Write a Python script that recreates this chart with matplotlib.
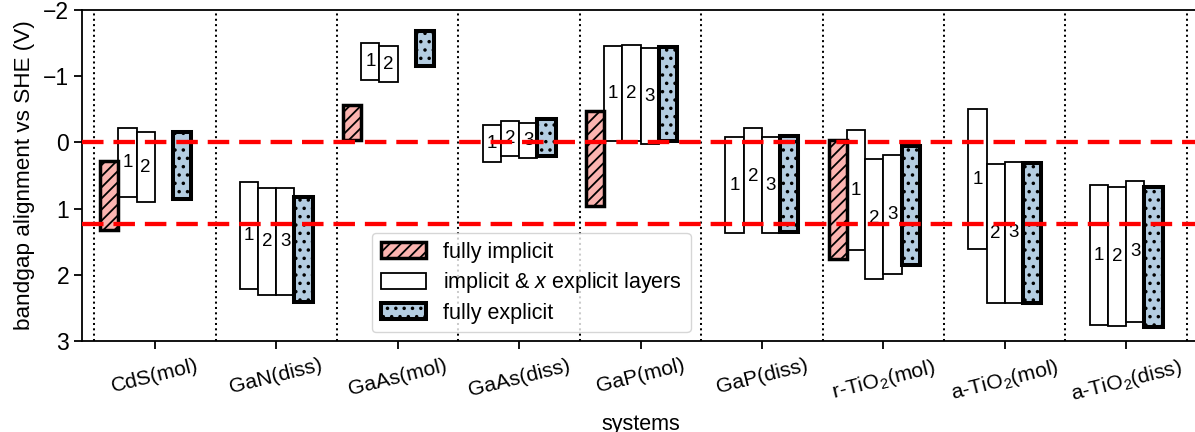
import numpy as np
import matplotlib.pyplot as plt
from matplotlib.patches import Patch

plt.rcParams['font.family'] = ['Liberation Sans', 'DejaVu Sans']
plt.rcParams['mathtext.fontset'] = 'custom'
plt.rcParams['mathtext.rm'] = 'Liberation Sans'
plt.rcParams['mathtext.it'] = 'Liberation Sans:italic'
plt.rcParams['hatch.linewidth'] = 1.3

# 数据：每个体系的导带(上)和价带(下)位置, V vs SHE
systems = ['CdS(mol)', 'GaN(diss)', 'GaAs(mol)', 'GaAs(diss)', 'GaP(mol)', 'GaP(diss)',
           r'r-TiO$_\mathregular{2}$(mol)', r'a-TiO$_\mathregular{2}$(mol)', r'a-TiO$_\mathregular{2}$(diss)']

implicit_cb = [0.28, None, -0.56, None, -0.48, None, -0.04, None, None]
implicit_vb = [1.32, None, -0.03, None, 0.96, None, 1.76, None, None]

layer_cb = [[-0.22, -0.15], [0.60, 0.69, 0.69], [-1.50, -1.45], [-0.26, -0.33, -0.30],
            [-1.46, -1.47, -1.42], [-0.08, -0.21, -0.08], [-0.19, 0.25, 0.19],
            [-0.50, 0.33, 0.29], [0.65, 0.67, 0.59]]
layer_vb = [[0.83, 0.90], [2.22, 2.31, 2.31], [-0.95, -0.91], [0.29, 0.21, 0.24],
            [-0.02, -0.02, 0.02], [1.37, 1.25, 1.37], [1.63, 2.06, 1.99],
            [1.61, 2.43, 2.42], [2.76, 2.77, 2.71]]

explicit_cb = [-0.16, 0.82, -1.69, -0.35, -1.44, -0.10, 0.05, 0.31, 0.68]
explicit_vb = [0.86, 2.41, -1.15, 0.20, -0.02, 1.35, 1.85, 2.43, 2.79]

water_levels = [0.0, 1.23]  # H+/H2 和 O2/H2O

pink = '#fbb4b0'
blue = '#b4cde1'
w = 0.15

fig = plt.figure(figsize=(11.95, 4.32), dpi=100)
ax = fig.add_axes([82 / 1195, 91 / 432, 1117 / 1195, 331 / 432])

x = np.arange(len(systems))
for i in x:
    # 隐式 + x 层显式
    for k, (cb, vb) in enumerate(zip(layer_cb[i], layer_vb[i])):
        xc = i - 0.45 + w / 2 + (k + 1) * w
        ax.bar(xc, vb - cb, bottom=cb, width=w, facecolor='white', edgecolor='k',
               linewidth=1.3, zorder=2)
        ax.text(xc, (cb + vb) / 2, str(k + 1), ha='center', va='center', fontsize=13.5, zorder=3)
    # 全隐式
    if implicit_cb[i] is not None:
        ax.bar(i - 0.45 + w / 2, implicit_vb[i] - implicit_cb[i], bottom=implicit_cb[i],
               width=w, facecolor=pink, edgecolor='k', linewidth=2.5, hatch='///', zorder=3)
    # 全显式
    ax.bar(i + 0.225, explicit_vb[i] - explicit_cb[i], bottom=explicit_cb[i], width=w,
           facecolor=blue, edgecolor='k', linewidth=2.9, hatch='..', zorder=3)

for xv in np.arange(-0.5, len(systems), 1.0):
    ax.axvline(xv, color='k', linestyle=':', linewidth=1.45, zorder=1)
for yv in water_levels:
    ax.axhline(yv, color='red', linestyle=(0, (5, 2.3)), linewidth=3.1, zorder=4)

ax.set_xlim(-0.6, 8.6)
ax.set_ylim(3, -2)
ax.set_xticks(x)
ax.set_xticklabels(systems, rotation=14, fontsize=15.2)
ax.set_yticks([-2, -1, 0, 1, 2, 3])
ax.tick_params(axis='y', labelsize=16.5, width=1.3, length=5.8)
ax.tick_params(axis='x', width=1.3, length=5.8, pad=5)
for s in ax.spines.values():
    s.set_linewidth(1.3)
ax.set_xlabel('systems', fontsize=15.5, labelpad=6)
ax.set_ylabel('bandgap alignment vs SHE (V)', fontsize=16.2, labelpad=6)

handles = [Patch(facecolor=pink, edgecolor='k', linewidth=2.5, hatch='///'),
           Patch(facecolor='white', edgecolor='k', linewidth=1.3),
           Patch(facecolor=blue, edgecolor='k', linewidth=2.9, hatch='..')]
labels = ['fully implicit', r'implicit & $x$ explicit layers', 'fully explicit']
ax.legend(handles, labels, loc='upper left', bbox_to_anchor=(0.2597, 0.326), borderaxespad=0,
          fontsize=15.5, handlelength=2.1, handleheight=0.75, labelspacing=0.35)

fig.savefig('out.png', dpi=100)
